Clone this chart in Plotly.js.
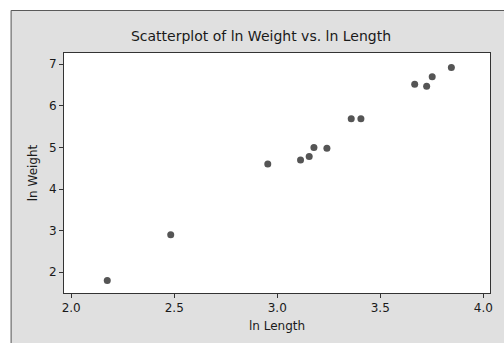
<!DOCTYPE html>
<html>
<head>
<meta charset="utf-8">
<script src="https://cdn.plot.ly/plotly-3.0.1.min.js"></script>
<style>html,body{margin:0;padding:0;background:#fff;}#chart{width:504px;height:343px;}</style>
</head>
<body>
<div id="chart"></div>
<script>
const lnLength = [2.175, 2.483, 2.954, 3.113, 3.155, 3.178, 3.241, 3.359, 3.406, 3.667, 3.725, 3.752, 3.845];
const lnWeight = [1.80, 2.90, 4.60, 4.70, 4.78, 5.00, 4.98, 5.69, 5.69, 6.52, 6.47, 6.70, 6.92];
const xTicks = [2.0, 2.5, 3.0, 3.5, 4.0];
const yTicks = [2, 3, 4, 5, 6, 7];

const W = 504, H = 343;
const mL = 63.5, mR = 13.5, mT = 53, mB = 50;
const pw = W - mL - mR, ph = H - mT - mB;
function px(x){ return (x - mL) / pw; }
function py(y){ return (H - mB - y) / ph; }

const font = 'Tahoma, "DejaVu Sans", sans-serif';
const frameColor = '#5a5a5a';

const data = [{
  type: 'scatter', mode: 'markers',
  x: lnLength, y: lnWeight,
  marker: {color: '#555555', size: 7},
  hoverinfo: 'skip'
}];

const layout = {
  width: W, height: H,
  margin: {l: mL, r: mR, t: mT, b: mB, pad: 0},
  paper_bgcolor: '#e0e0e0',
  plot_bgcolor: '#ffffff',
  showlegend: false,
  font: {family: font, size: 12, color: '#1a1a1a'},
  title: {text: 'Scatterplot of ln Weight vs. ln Length', font: {family: font, size: 14, color: '#1a1a1a'},
          xref: 'container', yref: 'container', x: 261/504, y: 1 - 36.5/343, xanchor: 'center', yanchor: 'middle'},
  xaxis: {
    range: [1.965, 4.0325], tickvals: xTicks, ticktext: xTicks.map(v => v.toFixed(1)),
    ticks: 'outside', ticklen: 4, tickcolor: '#333', tickwidth: 1,
    showline: true, mirror: true, linecolor: '#333', linewidth: 1,
    showgrid: false, zeroline: false,
    tickfont: {family: font, size: 12, color: '#1a1a1a'},
    title: {text: 'ln Length', font: {family: font, size: 12, color: '#1a1a1a'}, standoff: 7}
  },
  yaxis: {
    range: [1.50, 7.27], tickvals: yTicks, ticktext: yTicks.map(String),
    ticks: 'outside', ticklen: 4, tickcolor: '#333', tickwidth: 1,
    showline: true, mirror: true, linecolor: '#333', linewidth: 1,
    showgrid: false, zeroline: false,
    tickfont: {family: font, size: 12, color: '#1a1a1a'},
    title: {text: 'ln Weight', font: {family: font, size: 12, color: '#1a1a1a'}, standoff: 8}
  },
  shapes: [
    {type: 'rect', xref: 'paper', yref: 'paper', x0: px(-5), x1: px(W + 5), y0: py(10), y1: py(-5), fillcolor: '#ffffff', line: {width: 0}, layer: 'above'},
    {type: 'rect', xref: 'paper', yref: 'paper', x0: px(-5), x1: px(10), y0: py(H + 5), y1: py(-5), fillcolor: '#ffffff', line: {width: 0}, layer: 'above'},
    {type: 'line', xref: 'paper', yref: 'paper', x0: px(10.5), x1: px(W + 5), y0: py(10.5), y1: py(10.5), line: {color: frameColor, width: 1}, layer: 'above'},
    {type: 'line', xref: 'paper', yref: 'paper', x0: px(10.5), x1: px(10.5), y0: py(10.5), y1: py(H + 5), line: {color: frameColor, width: 1}, layer: 'above'}
  ]
};

Plotly.newPlot('chart', data, layout, {staticPlot: true, displayModeBar: false});
</script>
</body>
</html>
